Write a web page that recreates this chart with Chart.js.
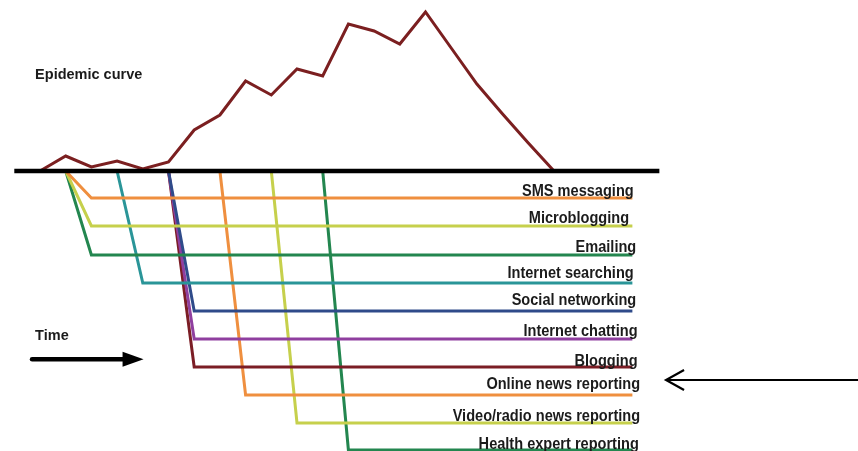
<!DOCTYPE html>
<html>
<head>
<meta charset="utf-8">
<script src="https://cdn.jsdelivr.net/npm/chart.js@4/dist/chart.umd.min.js"></script>
<style>
  html, body { margin: 0; padding: 0; background: #ffffff; }
  #wrap { width: 858px; height: 451px; position: relative; }
</style>
</head>
<body>
<div id="wrap"><canvas id="c"></canvas></div>
<script>
// ---- DATA ----
// time steps of the epidemic curve
const timeSteps = [0, 1, 2, 3, 4, 5, 6, 7, 8, 9, 10, 11, 12, 13, 14, 15, 16, 17, 18, 19, 20];
// relative case counts (epidemic curve)
const epidemicCases = [0, 15, 4, 10, 2, 9, 41, 56, 90, 76, 102, 95, 147, 140, 127, 159, 123, 87, 57, 28, 0];
// information channels
const channelNames = ['SMS messaging', 'Microblogging', 'Emailing', 'Internet searching', 'Social networking',
  'Internet chatting', 'Blogging', 'Online news reporting', 'Video/radio news reporting', 'Health expert reporting'];
// time step at which each channel starts reacting
const channelStart = [1, 1, 1, 3, 5, 5, 5, 7, 9, 11];
// depth level of each channel (below the time axis)
const channelLevel = [-27, -55, -84, -112, -140, -168, -196, -224, -252, -279];

// ---- STYLE / LAYOUT ----
const channelColors = ['#ef8f3f', '#c6d04c', '#23864f', '#2a9598', '#2f4b8a', '#8f3f9f', '#7b1d25',
  '#ef8f3f', '#c6d04c', '#23864f'];
const curveColor = '#7b1f20';
const axisStart = -1.0, axisEnd = 24.1, channelEnd = 23.05, rampLength = 1.0;
const labelRight = 23.2;
const labelDx = [-0.1, -0.28, 0, -0.1, 0, 0.05, 0.05, 0.15, 0.15, 0.1];
const labelDy = [2, 3, 3, 5, 6, 3, 1, 6, 2, 1];

const channelDatasets = channelNames.map((name, i) => ({
  label: name,
  data: [
    { x: channelStart[i], y: 0 },
    { x: channelStart[i] + rampLength, y: channelLevel[i] },
    { x: channelEnd, y: channelLevel[i] }
  ],
  borderColor: channelColors[i],
  borderWidth: 3,
  pointRadius: 0,
  fill: false,
  tension: 0
}));

const datasets = [
  {
    label: 'Time axis',
    data: [{ x: axisStart, y: 0 }, { x: axisEnd, y: 0 }],
    borderColor: '#000000',
    borderWidth: 4.5,
    pointRadius: 0,
    tension: 0
  },
  {
    label: 'Epidemic curve',
    data: timeSteps.map((t, i) => ({ x: t, y: epidemicCases[i] })),
    borderColor: curveColor,
    borderWidth: 3,
    pointRadius: 0,
    tension: 0
  },
  ...channelDatasets
];

const annotationPlugin = {
  id: 'annotations',
  afterDatasetsDraw(chart) {
    const ctx = chart.ctx;
    const xs = chart.scales.x, ys = chart.scales.y;
    const px = v => xs.getPixelForValue(v);
    const py = v => ys.getPixelForValue(v);
    ctx.save();
    ctx.fillStyle = '#1b1b1b';
    ctx.textBaseline = 'alphabetic';

    // Epidemic curve title
    ctx.font = 'bold 14.5px "Liberation Sans", Arial, sans-serif';
    ctx.textAlign = 'left';
    ctx.fillText('Epidemic curve', px(-0.19), py(92.5));
    // Time label
    ctx.fillText('Time', px(-0.19), py(-169));

    // channel labels (condensed bold)
    ctx.font = 'bold 16px "Liberation Sans", Arial, sans-serif';
    ctx.textAlign = 'right';
    channelNames.forEach((name, i) => {
      const x = px(labelRight + labelDx[i]);
      const y = py(channelLevel[i]) - labelDy[i];
      ctx.save();
      ctx.translate(x, y);
      ctx.scale(0.91, 1);
      ctx.fillText(name, 0, 0);
      ctx.restore();
    });

    // Time arrow
    const ty = py(-188.3);
    const tx0 = px(-0.31), tx1 = px(4.03);
    ctx.strokeStyle = '#000000';
    ctx.lineWidth = 4.5;
    ctx.lineCap = 'round';
    ctx.beginPath();
    ctx.moveTo(tx0, ty);
    ctx.lineTo(tx1 - 12, ty);
    ctx.stroke();
    ctx.fillStyle = '#000000';
    ctx.beginPath();
    ctx.moveTo(tx1, ty);
    ctx.lineTo(tx1 - 21, ty - 7.5);
    ctx.lineTo(tx1 - 21, ty + 7.5);
    ctx.closePath();
    ctx.fill();

    // pointer arrow on the right
    const ay = py(-209);
    const ax0 = px(24.36), ax1 = px(31.9);
    ctx.lineWidth = 2.2;
    ctx.lineCap = 'butt';
    ctx.beginPath();
    ctx.moveTo(ax0 + 1, ay);
    ctx.lineTo(ax1, ay);
    ctx.stroke();
    ctx.beginPath();
    ctx.moveTo(ax0 + 18, ay - 10);
    ctx.lineTo(ax0, ay);
    ctx.lineTo(ax0 + 18, ay + 10);
    ctx.stroke();
    ctx.restore();
  }
};

new Chart(document.getElementById('c'), {
  type: 'line',
  data: { datasets },
  options: {
    responsive: true,
    maintainAspectRatio: false,
    animation: false,
    layout: { padding: 0 },
    clip: false,
    plugins: { legend: { display: false }, tooltip: { enabled: false }, title: { display: false } },
    elements: { line: { borderJoinStyle: 'miter', borderCapStyle: 'butt' } },
    scales: {
      x: { type: 'linear', display: false, min: -1.5564, max: 31.829 },
      y: { type: 'linear', display: false, min: -280, max: 171 }
    }
  },
  plugins: [annotationPlugin]
});
</script>
</body>
</html>
